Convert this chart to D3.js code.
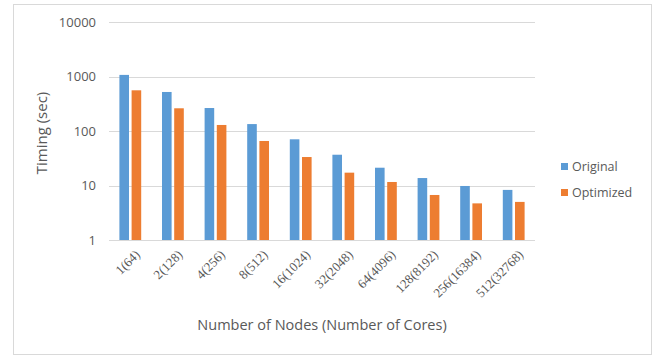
<!DOCTYPE html>
<html>
<head>
<meta charset="utf-8">
<script src="https://cdn.jsdelivr.net/npm/d3@7"></script>
<style>
  html, body { margin: 0; padding: 0; background: #fff; }
  svg { display: block; }
</style>
</head>
<body>
<svg id="chart" width="659" height="356"></svg>
<script>
// Run-time per configuration, nodes(cores)
const categories = ["1(64)", "2(128)", "4(256)", "8(512)", "16(1024)", "32(2048)",
                    "64(4096)", "128(8192)", "256(16384)", "512(32768)"];
const original  = [1070, 520, 264, 134, 70.4, 36.7, 21.2, 13.7, 9.8, 8.3];
const optimized = [558, 261, 129, 65.6, 33.3, 17.2, 11.6, 6.7, 4.7, 5.0];
const seriesNames = ["Original", "Optimized"];
const yTicks = [1, 10, 100, 1000, 10000];

const colors = ["#5B9BD5", "#ED7D31"];
const svg = d3.select("#chart");

// outer chart frame
svg.append("rect")
  .attr("x", 13.5).attr("y", 4.5).attr("width", 638).attr("height", 350)
  .attr("fill", "#fff").attr("stroke", "#d9d9d9").attr("stroke-width", 1);

const plot = { left: 109, right: 535, top: 22, bottom: 240 };

const x = d3.scaleBand().domain(categories).range([plot.left, plot.right]).padding(0);
const y = d3.scaleLog().domain([1, 10000]).range([plot.bottom, plot.top]);

// gridlines
svg.append("g").selectAll("line").data(yTicks).join("line")
  .attr("x1", plot.left).attr("x2", plot.right)
  .attr("y1", d => Math.round(y(d)) + 0.5).attr("y2", d => Math.round(y(d)) + 0.5)
  .attr("stroke", "#d9d9d9").attr("stroke-width", 1);

// y tick labels
svg.append("g").selectAll("text").data(yTicks).join("text")
  .attr("x", 96).attr("y", d => y(d))
  .attr("dy", "0.35em")
  .attr("text-anchor", "end")
  .attr("font-family", "'Open Sans', 'Liberation Sans', sans-serif")
  .attr("font-size", 13)
  .attr("fill", "#595959")
  .text(d => d);

// bars
const barW = 9.6, gap = 2.6;
const rows = categories.map((c, i) => ({ c, vals: [original[i], optimized[i]] }));
const groups = svg.append("g").selectAll("g").data(rows).join("g")
  .attr("transform", d => `translate(${x(d.c) + x.bandwidth() / 2},0)`);
groups.selectAll("rect").data(d => d.vals.map((v, k) => ({ v, k }))).join("rect")
  .attr("x", d => d.k === 0 ? -(barW + gap / 2) : gap / 2)
  .attr("width", barW)
  .attr("y", d => y(d.v))
  .attr("height", d => y(1) - y(d.v))
  .attr("fill", d => colors[d.k]);

// x tick labels, rotated
svg.append("g").selectAll("text").data(categories).join("text")
  .attr("transform", d => `translate(${x(d) + x.bandwidth() / 2 + 4},${plot.bottom + 9}) rotate(-45)`)
  .attr("text-anchor", "end")
  .attr("dy", "0.7em")
  .attr("font-family", "'Liberation Serif', 'Times New Roman', serif")
  .attr("font-size", 13)
  .attr("fill", "#595959")
  .text(d => d);

// axis titles
svg.append("text")
  .attr("x", 322).attr("y", 330)
  .attr("text-anchor", "middle")
  .attr("font-family", "'Open Sans', 'Liberation Sans', sans-serif")
  .attr("font-size", 14.5)
  .attr("fill", "#595959")
  .text("Number of Nodes (Number of Cores)");

svg.append("text")
  .attr("transform", "translate(47,133) rotate(-90)")
  .attr("text-anchor", "middle")
  .attr("font-family", "'Open Sans', 'Liberation Sans', sans-serif")
  .attr("font-size", 15)
  .attr("fill", "#595959")
  .text("Timing (sec)");

// legend
const legend = svg.append("g").selectAll("g").data(seriesNames).join("g")
  .attr("transform", (d, i) => `translate(561,${163 + i * 26})`);
legend.append("rect").attr("width", 7).attr("height", 7).attr("fill", (d, i) => colors[i]);
legend.append("text")
  .attr("x", 11).attr("y", 3.5).attr("dy", "0.35em")
  .attr("font-family", "'Open Sans', 'Liberation Sans', sans-serif")
  .attr("font-size", 12.5)
  .attr("fill", "#595959")
  .text(d => d);
</script>
</body>
</html>
